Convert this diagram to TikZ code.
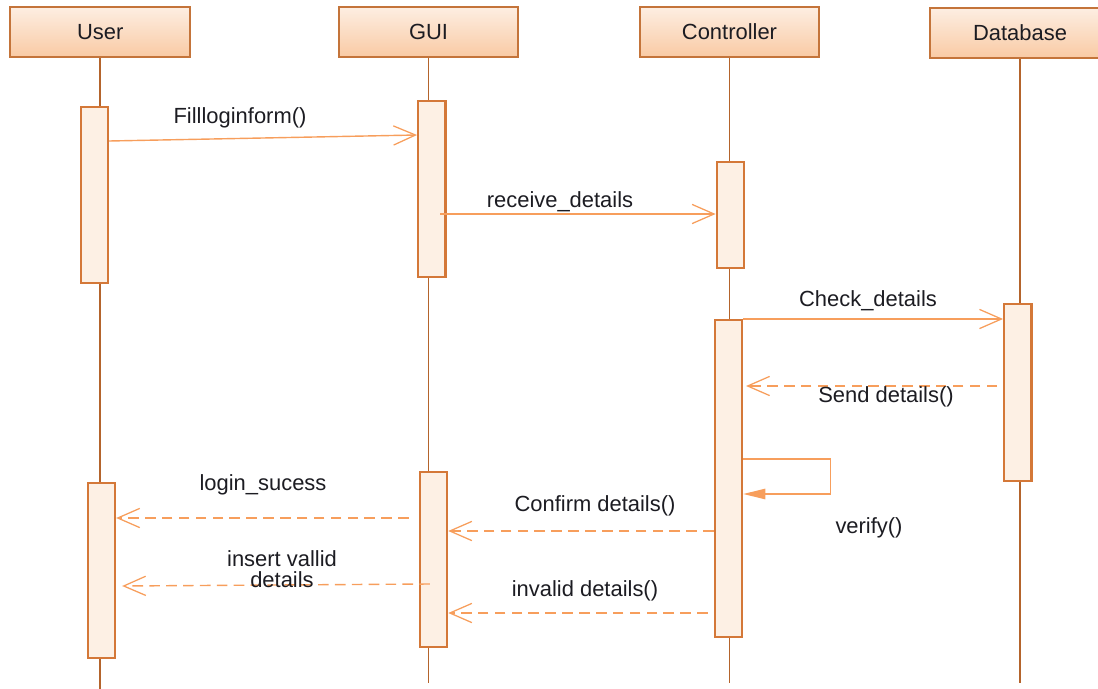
\documentclass[tikz,border=0pt]{standalone}
\usepackage{fontspec}
\setmainfont{Liberation Sans}
\usepackage{tikz}
\usetikzlibrary{arrows.meta}
\definecolor{headtop}{RGB}{253,238,226}
\definecolor{headbot}{RGB}{249,202,164}
\definecolor{headline}{RGB}{196,116,58}
\definecolor{lifeline}{RGB}{180,100,44}
\definecolor{actfill}{RGB}{253,240,228}
\definecolor{actline}{RGB}{212,120,56}
\definecolor{msgcol}{RGB}{247,158,92}
\definecolor{txt}{RGB}{28,28,34}

\begin{document}
\begin{tikzpicture}[x=0.025cm, y=-0.025cm,
  every node/.style={font=\fontsize{15.6}{17.5}\selectfont, text=txt},
  head/.style={draw=headline, line width=1.5pt, top color=headtop, bottom color=headbot, minimum width=4.49cm, minimum height=1.25cm, inner sep=0pt},
  life/.style={draw=lifeline, line width=1.3pt},
  act/.style={draw=actline, line width=1.5pt, fill=actfill, minimum width=0.685cm, inner sep=0pt},
  msg/.style={draw=msgcol, line width=1pt, -{Straight Barb[length=0.55cm, width=0.48cm, line width=0.9pt]}},
  reply/.style={msg, dash pattern=on 7.5pt off 4.5pt},
  self/.style={draw=msgcol, line width=1pt, -{Triangle[length=0.55cm, width=0.26cm]}}]
\useasboundingbox (0,0) rectangle (1098,689);

\node[head] (user) at (100.25,32) {User};
\node[head] (gui) at (428.5,32) {GUI};
\node[head] (ctrl) at (729.5,32) {Controller};
\node[head, minimum width=4.5cm] (db) at (1020,33) {Database};

\draw[life] (user.south) -- (user.south |- 0,689);
\draw[life] (gui.south) -- (gui.south |- 0,683);
\draw[life] (ctrl.south) -- (ctrl.south |- 0,683);
\draw[life] (db.south) -- (db.south |- 0,683);

\node[act, minimum height=4.4cm] (uact1) at (94.4,195) {};
\node[act, minimum height=4.4cm] (gact1) at (431.8,189) {};
\node[act, minimum height=2.64cm] (cact1) at (730.4,215) {};
\node[act, minimum height=7.925cm] (cact2) at (728.5,478.5) {};
\node[act, minimum height=4.425cm] (dbact) at (1017.8,392.5) {};
\node[act, minimum height=4.375cm] (uact2) at (101.4,570.5) {};
\node[act, minimum height=4.375cm] (gact2) at (433.5,559.5) {};

\draw[msg] (uact1.east |- 0,141) -- (gact1.west |- 0,135);
\node (fill) at (240,118) {Fillloginform()};
\draw[msg] ([xshift=-0.16cm]gact1.east |- 0,214) -- (cact1.west |- 0,214);
\node (recv) at (560,202) {receive\_details};
\draw[msg] (cact2.east |- 0,319) -- (dbact.west |- 0,319);
\node (check) at (868,301) {Check\_details};
\draw[reply] ([xshift=-0.15cm]dbact.west |- 0,386) -- ([xshift=0.07cm]cact2.east |- 0,386);
\node (send) at (886,397) {Send details()};
\draw[self] (cact2.east |- 0,459) -| (830.5,494) -- (cact2.east |- 0,494);
\node (verify) at (869,528) {verify()};
\draw[reply] (cact2.west |- 0,531) -- (gact2.east |- 0,531);
\node (confirm) at (595,506) {Confirm details()};
\draw[reply] ([xshift=-0.15cm]cact2.west |- 0,613) -- (gact2.east |- 0,613);
\node (invalid) at (585,591) {invalid details()};
\draw[reply] ([xshift=-0.25cm]gact2.west |- 0,518) -- (uact2.east |- 0,518);
\node (login) at (263,485) {login\_sucess};
\draw[reply] ([xshift=-0.09cm]gact2.center |- 0,584) -- ([xshift=0.15cm]uact2.east |- 0,586);
\node[align=center, text depth=0pt] (insert) at (282,569) {insert vallid\\[-3pt]details};
\end{tikzpicture}
\end{document}
